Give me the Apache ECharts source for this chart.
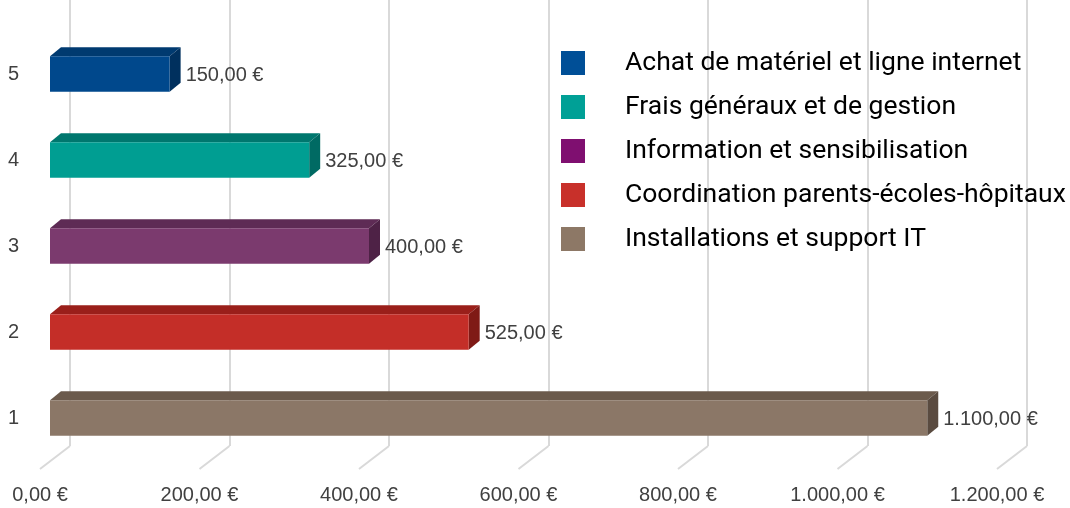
<!DOCTYPE html>
<html>
<head>
<meta charset="utf-8">
<script src="https://cdn.jsdelivr.net/npm/echarts@6/dist/echarts.min.js"></script>
<style>
html, body { margin: 0; padding: 0; background: #fff; }
#chart { width: 1070px; height: 508px; }
</style>
</head>
<body>
<div id="chart"></div>
<script>
// categories (bottom to top) and values
var categories = ['1', '2', '3', '4', '5'];
var seriesNames = [
	'Installations et support IT',
	'Coordination parents-écoles-hôpitaux',
	'Information et sensibilisation',
	'Frais généraux et de gestion',
	'Achat de matériel et ligne internet'
];
var values = [1100, 525, 400, 325, 150];
var xTicks = [0, 200, 400, 600, 800, 1000, 1200];

// couleurs : face avant, dessus, côté, légende
var frontColors = ['#8b7767', '#c42e28', '#7b3a6e', '#009e92', '#00488c'];
var topColors = ['#6b5a4c', '#9a1f1a', '#5e2b55', '#00776e', '#003a70'];
var sideColors = ['#5a4b40', '#7f1a16', '#4e2246', '#006a63', '#00305e'];
var legendColors = ['#8d7866', '#c8302a', '#7f0f70', '#00a096', '#004f97'];

var FONT = 'Liberation Sans';
var TEXT_COLOR = '#404040';
var DX = 11, DY = -9;

function fmt(v) {
	var parts = v.toFixed(2).split('.');
	parts[0] = parts[0].replace(/\B(?=(\d{3})+(?!\d))/g, '.');
	return parts[0] + ',' + parts[1] + ' €';
}

function renderBar(idx) {
	return function(params, api) {
		var cat = api.value(1);
		var val = api.value(0);
		var s = api.coord([0, cat]);
		var e = api.coord([val, cat]);
		var h = api.size([0, 1])[1] * 0.41;
		var x0 = s[0], x1 = e[0], y0 = s[1] - h / 2, y1 = s[1] + h / 2;
		return {
			type: 'group',
			children: [{
				type: 'polygon',
				shape: { points: [[x0, y0], [x0 + DX, y0 + DY], [x1 + DX, y0 + DY], [x1, y0]] },
				style: { fill: topColors[idx] }
			}, {
				type: 'polygon',
				shape: { points: [[x1, y0], [x1 + DX, y0 + DY], [x1 + DX, y1 + DY], [x1, y1]] },
				style: { fill: sideColors[idx] }
			}, {
				type: 'rect',
				shape: { x: x0, y: y0, width: x1 - x0, height: h },
				style: { fill: frontColors[idx] }
			}, {
				type: 'text',
				style: {
					text: fmt(val), x: x1 + DX + 5, y: s[1] + 1,
					verticalAlign: 'middle', fill: TEXT_COLOR,
					font: '20px "' + FONT + '"'
				}
			}]
		};
	};
}

var series = [];
for (var i = 0; i < values.length; i++) {
	series.push({
		type: 'custom',
		name: seriesNames[i],
		xAxisIndex: 1,
		yAxisIndex: 1,
		color: legendColors[i],
		renderItem: renderBar(i),
		encode: { x: 0, y: 1 },
		data: [[values[i], i]],
		z: 3
	});
}

// diagonales du sol
series.push({
	type: 'custom',
	xAxisIndex: 2,
	yAxisIndex: 2,
	silent: true,
	renderItem: function(params, api) {
		var p = api.coord([api.value(0), 0]);
		return {
			type: 'line',
			shape: { x1: p[0], y1: p[1], x2: p[0] + 30, y2: p[1] - 23 },
			style: { stroke: '#d9d9d9', lineWidth: 2 }
		};
	},
	encode: { x: 0 },
	data: xTicks.map(function(t) { return [t]; }),
	z: 1
});

var valueAxisBase = { type: 'value', min: 0, max: 1200, interval: 200 };

var chart = echarts.init(document.getElementById('chart'));
chart.setOption({
	animation: false,
	grid: [
		{ left: 70, width: 957, top: 0, height: 446 },
		{ left: 50, width: 957, top: 31, height: 430 },
		{ left: 40, width: 957, top: 400, height: 69 }
	],
	xAxis: [
		echarts.util.extend({
			gridIndex: 0,
			axisLabel: { show: false }, axisLine: { show: false }, axisTick: { show: false },
			splitLine: { show: true, lineStyle: { color: '#d9d9d9', width: 2 } }
		}, valueAxisBase),
		echarts.util.extend({
			gridIndex: 1, show: false
		}, valueAxisBase),
		echarts.util.extend({
			gridIndex: 2,
			axisLine: { show: false }, axisTick: { show: false }, splitLine: { show: false },
			axisLabel: {
				margin: 16, color: TEXT_COLOR, fontSize: 20, fontFamily: FONT,
				formatter: function(v) { return fmt(v); }
			}
		}, valueAxisBase)
	],
	yAxis: [
		{ gridIndex: 0, type: 'value', show: false },
		{
			gridIndex: 1, type: 'category', data: categories,
			axisLine: { show: false }, axisTick: { show: false },
			axisLabel: { margin: 31, color: TEXT_COLOR, fontSize: 20, fontFamily: FONT, padding: [10, 0, 0, 0] }
		},
		{ gridIndex: 2, type: 'value', min: 0, max: 1, show: false }
	],
	legend: {
		orient: 'vertical',
		left: 561,
		top: 49,
		padding: 0,
		itemWidth: 24,
		itemHeight: 24,
		itemGap: 16,
		icon: 'rect',
		data: seriesNames.slice().reverse(),
		textStyle: { color: '#000', fontSize: 26.5, lineHeight: 24, fontFamily: 'Roboto', padding: [0, 0, 4, 35] }
	},
	series: series
});
</script>
</body>
</html>
